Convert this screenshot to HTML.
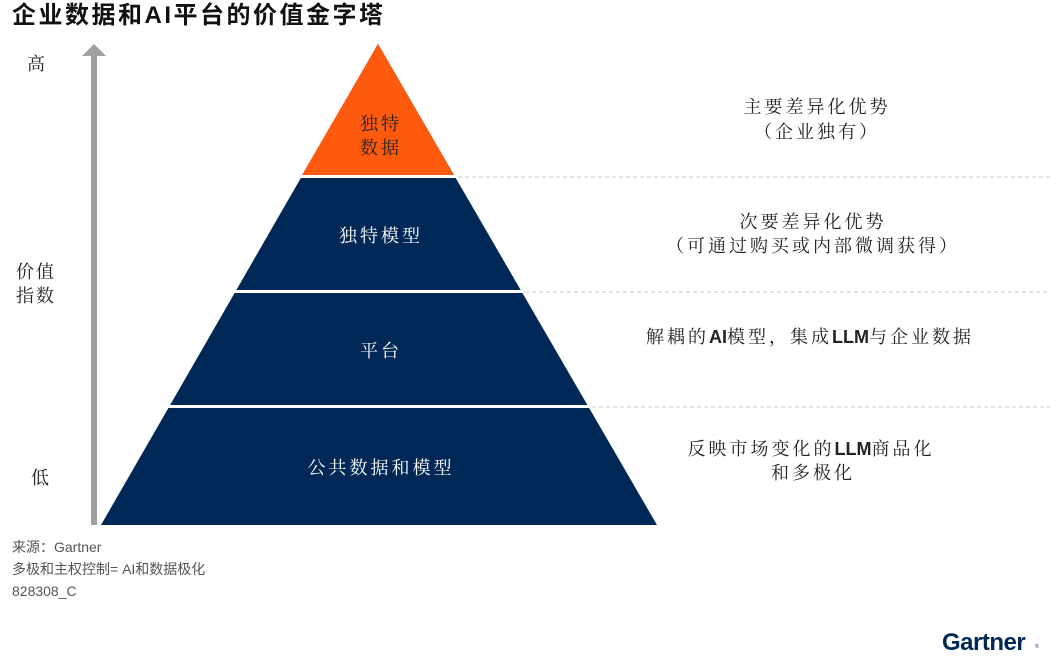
<!DOCTYPE html>
<html><head><meta charset="utf-8"><style>
body{margin:0;width:1063px;height:660px;background:#fff;overflow:hidden;font-family:"Liberation Sans","Noto Sans CJK SC",sans-serif}
</style></head><body>
<svg width="1063" height="660" viewBox="0 0 1063 660" xmlns="http://www.w3.org/2000/svg" font-family="Liberation Sans, Noto Sans CJK SC, sans-serif">
<text x="12" y="23" font-size="24" font-weight="bold" fill="#111" letter-spacing="2.5">企业数据和AI平台的价值金字塔</text>
<!-- arrow -->
<rect x="91" y="55" width="6" height="470" fill="#a0a0a0"/>
<polygon points="94,44 82,56 106,56" fill="#a0a0a0"/>
<g font-family="Liberation Sans, Noto Serif CJK SC, serif">
<text x="36" y="70" font-size="18" fill="#222" text-anchor="middle">高</text>
<text x="36" y="278" font-size="18" fill="#222" text-anchor="middle" letter-spacing="2">价值</text>
<text x="36" y="302" font-size="18" fill="#222" text-anchor="middle" letter-spacing="2">指数</text>
<text x="40" y="484" font-size="18" fill="#222" text-anchor="middle">低</text>
</g>
<!-- pyramid -->
<polygon points="378,44 101,525 657,525" fill="#002856"/>
<polygon points="378,44 302,175 454,175" fill="#fe5a0e"/>
<rect x="290" y="175" width="180" height="3" fill="#fff"/>
<rect x="230" y="290" width="300" height="3" fill="#fff"/>
<rect x="160" y="405" width="440" height="3" fill="#fff"/>
<g stroke="#c8c8c8" stroke-dasharray="4,3" stroke-width="1">
<line x1="458" y1="177" x2="1050" y2="177"/>
<line x1="525" y1="292" x2="1050" y2="292"/>
<line x1="592" y1="407" x2="1050" y2="407"/>
</g>
<g font-size="18" text-anchor="middle" letter-spacing="3" font-family="Liberation Sans, Noto Serif CJK SC, serif">
<text x="381" y="130" fill="#222">独特</text>
<text x="381" y="154" fill="#222">数据</text>
<text x="381" y="242" fill="#fff">独特模型</text>
<text x="381" y="357" fill="#fff">平台</text>
<text x="381" y="474" fill="#fff">公共数据和模型</text>
</g>
<g font-size="18" text-anchor="middle" fill="#222" letter-spacing="3" font-family="Liberation Sans, Noto Serif CJK SC, serif">
<text x="817" y="113">主要差异化优势</text>
<text x="817" y="138">（企业独有）</text>
<text x="813" y="228">次要差异化优势</text>
<text x="813" y="252">（可通过购买或内部微调获得）</text>
<text x="810" y="343"><tspan>解耦的</tspan><tspan letter-spacing="0" font-weight="bold">AI</tspan><tspan>模型，集成</tspan><tspan letter-spacing="0" font-weight="bold">LLM</tspan><tspan>与企业数据</tspan></text>
<text x="811" y="455"><tspan>反映市场变化的</tspan><tspan letter-spacing="0" font-weight="bold">LLM</tspan><tspan>商品化</tspan></text>
<text x="813" y="479">和多极化</text>
</g>
<g font-size="14" fill="#555">
<text x="12" y="552">来源：Gartner</text>
<text x="12" y="574">多极和主权控制= AI和数据极化</text>
<text x="12" y="596">828308_C</text>
</g>
<text x="942" y="650" font-size="24" font-weight="bold" fill="#002856" letter-spacing="-0.5">Gartner</text>
<text x="1035" y="648" font-size="5" fill="#002856">®</text>
</svg>
</body></html>
